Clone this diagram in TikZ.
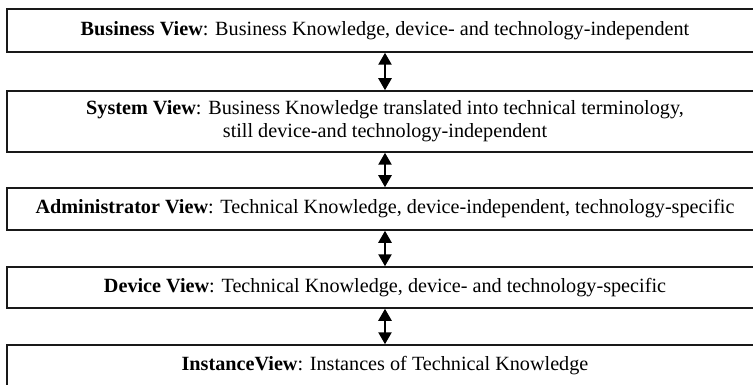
\documentclass[tikz,border=0pt]{standalone}
\usepackage{fontspec}
\setmainfont{Liberation Serif}
\usetikzlibrary{arrows.meta}
\begin{document}
\begin{tikzpicture}[x=1pt,y=-1pt,
  viewbox/.style={draw=black!90, line width=1.5pt, minimum width=756pt, inner sep=0pt,
    align=center, font=\fontsize{20.2}{23}\selectfont, anchor=center},
  link/.style={line width=2.4pt, {Triangle[length=12pt,width=13pt]}-{Triangle[length=12pt,width=13pt]}}]
\useasboundingbox (0,0) rectangle (753,385);
\node[viewbox, minimum height=43pt] (b1) at (385,30.5) {\textbf{Business View}: Business Knowledge, device- and technology-independent};
\node[viewbox, minimum height=61pt] (b2) at (385,121.5) {\textbf{System View}: Business Knowledge translated into technical terminology,\\ still device-and technology-independent};
\node[viewbox, minimum height=42pt] (b3) at (385,209) {\textbf{Administrator View}: Technical Knowledge, device-independent, technology-specific};
\node[viewbox, minimum height=41pt] (b4) at (385,287.5) {\textbf{Device View}: Technical Knowledge, device- and technology-specific};
\node[viewbox, minimum height=42pt] (b5) at (385,366) {\textbf{InstanceView}: Instances of Technical Knowledge};
\draw[link] (b1.south) -- (b2.north);
\draw[link] (b2.south) -- (b3.north);
\draw[link] (b3.south) -- (b4.north);
\draw[link] (b4.south) -- (b5.north);
\end{tikzpicture}
\end{document}
